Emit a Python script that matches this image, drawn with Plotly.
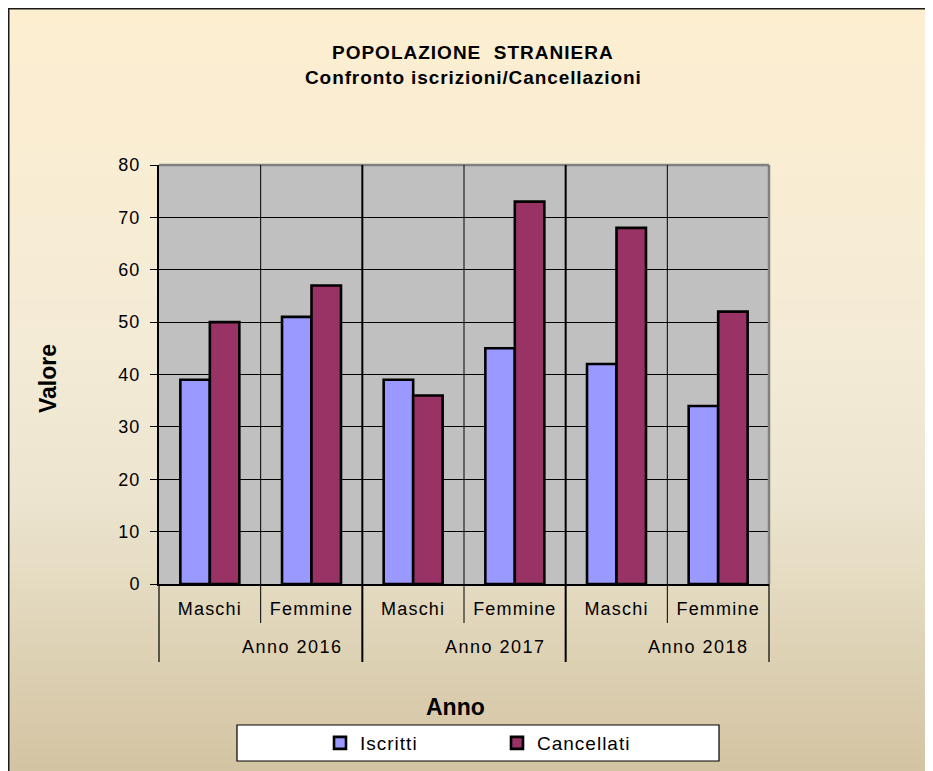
import plotly.graph_objects as go

# ---- data ----
years = ["Anno 2016", "Anno 2017", "Anno 2018"]
sexes = ["Maschi", "Femmine"]
iscritti = [39, 51, 39, 45, 42, 34]
cancellati = [50, 57, 36, 73, 68, 52]
y_ticks = [0, 10, 20, 30, 40, 50, 60, 70, 80]

title_text = "POPOLAZIONE\u00a0\u00a0STRANIERA"
subtitle_text = "Confronto iscrizioni/Cancellazioni"

# ---- figure geometry (page has an 8px body margin) ----
OFF = 8
W, H = 933, 771
ML, MT = 151, 157
PW, PH = 610, 419
MR = W - ML - PW
MB = H - MT - PH
FONT = "Liberation Sans, Arial, sans-serif"


def px_x(px):
    return (px - OFF - ML) / PW


def px_y(py):
    return (OFF + MT + PH - py) / PH


def spaced(t, ls):
    return f'<span style="letter-spacing:{ls}px">{t}</span>'


cats = [f"{y} {s}" for y in years for s in sexes]
ticktext = [spaced(s, 1.2) for y in years for s in sexes]

fig = go.Figure()
fig.add_trace(go.Bar(name=spaced("Iscritti", 1), x=cats, y=iscritti,
                     marker=dict(color="#9999FF", line=dict(color="#000000", width=2.6))))
fig.add_trace(go.Bar(name=spaced("Cancellati", 1), x=cats, y=cancellati,
                     marker=dict(color="#993366", line=dict(color="#000000", width=2.6))))

shapes = []
# background gradient over the whole paper
stops = [(0.0, (253, 238, 208)), (0.45, (244, 235, 214)), (0.65, (236, 228, 206)), (1.0, (211, 196, 162))]


def grad(t):
    for (t0, c0), (t1, c1) in zip(stops[:-1], stops[1:]):
        if t <= t1:
            f = (t - t0) / (t1 - t0)
            return tuple(round(a + (b - a) * f) for a, b in zip(c0, c1))
    return stops[-1][1]


n = 96
step = H / n
for i in range(n):
    ya = i * step
    yb = ya + step + 0.6
    c = grad(min(1.0, (i + 0.5) * step / (H - OFF)))
    shapes.append(dict(type="rect", xref="paper", yref="paper", layer="below",
                       x0=px_x(OFF - 2), x1=px_x(OFF + W + 2),
                       y0=px_y(OFF + yb), y1=px_y(OFF + ya),
                       fillcolor=f"rgb{c}", line=dict(width=0)))
# outer frame (top and left edges)
shapes.append(dict(type="line", xref="paper", yref="paper", layer="above",
                   x0=px_x(OFF), x1=px_x(OFF + W), y0=px_y(OFF + 0.75), y1=px_y(OFF + 0.75),
                   line=dict(color="#1a1a1a", width=1.5)))
shapes.append(dict(type="line", xref="paper", yref="paper", layer="above",
                   x0=px_x(OFF + 0.75), x1=px_x(OFF + 0.75), y0=px_y(OFF), y1=px_y(OFF + H),
                   line=dict(color="#1a1a1a", width=1.5)))
# plot area fill
shapes.append(dict(type="rect", xref="paper", yref="paper", layer="below",
                   x0=0, x1=1, y0=0, y1=1, fillcolor="#C0C0C0", line=dict(width=0)))
# grey border top & right
shapes.append(dict(type="line", xref="paper", yref="paper", layer="above",
                   x0=0, x1=1, y0=1, y1=1, line=dict(color="#808080", width=2.5)))
shapes.append(dict(type="line", xref="paper", yref="paper", layer="above",
                   x0=1, x1=1, y0=0, y1=1, line=dict(color="#808080", width=2.5)))
# legend box
shapes.append(dict(type="rect", xref="paper", yref="paper", layer="below",
                   x0=px_x(237), x1=px_x(719), y0=px_y(761), y1=px_y(725),
                   fillcolor="#FFFFFF", line=dict(color="#000000", width=1.2)))

short_end = px_y(623)
long_end = px_y(662)
ncat = len(cats)
nsub = len(sexes)
for b in range(1, ncat):
    pos = b - 0.5
    is_group = (b % nsub == 0)
    shapes.append(dict(type="line", xref="x", yref="paper", layer="above",
                       x0=pos, x1=pos, y0=1, y1=long_end if is_group else short_end,
                       line=dict(color="#000000", width=2 if is_group else 1)))
for xp in (0, 1):
    shapes.append(dict(type="line", xref="paper", yref="paper", layer="above",
                       x0=xp, x1=xp, y0=0, y1=long_end,
                       line=dict(color="#000000", width=1.2)))

annotations = []
for gi, yr in enumerate(years):
    center = gi * nsub + (nsub - 1) / 2
    annotations.append(dict(text=spaced(yr, 1.5), x=center + 0.31, xref="x", y=px_y(647), yref="paper",
                            showarrow=False, xanchor="center", yanchor="middle",
                            font=dict(size=18, color="#000000", family=FONT)))
annotations.append(dict(text=spaced(f"<b>{title_text}</b>", 1), x=px_x(473), y=px_y(52),
                        xref="paper", yref="paper", showarrow=False, xanchor="center", yanchor="middle",
                        font=dict(size=19, color="#000000", family=FONT)))
annotations.append(dict(text=spaced(f"<b>{subtitle_text}</b>", 0.9), x=px_x(473), y=px_y(77),
                        xref="paper", yref="paper", showarrow=False, xanchor="center", yanchor="middle",
                        font=dict(size=19, color="#000000", family=FONT)))
annotations.append(dict(text="<b>Anno</b>", x=px_x(455), y=px_y(707), xref="paper", yref="paper",
                        showarrow=False, xanchor="center", yanchor="middle",
                        font=dict(size=23, color="#000000", family=FONT)))
annotations.append(dict(text="<b>Valore</b>", x=px_x(48), y=px_y(378), xref="paper", yref="paper",
                        showarrow=False, xanchor="center", yanchor="middle", textangle=-90,
                        font=dict(size=23, color="#000000", family=FONT)))

fig.update_layout(
    template="none",
    width=W, height=H,
    margin=dict(l=ML, r=MR, t=MT, b=MB, pad=0),
    paper_bgcolor="#FFFFFF",
    plot_bgcolor="#C0C0C0",
    font=dict(family=FONT, size=19, color="#000000"),
    barmode="group",
    bargap=0.42,
    bargroupgap=0,
    showlegend=True,
    legend=dict(orientation="h", x=px_x(320), xanchor="left", y=px_y(743), yanchor="middle",
                bgcolor="rgba(0,0,0,0)", borderwidth=0, font=dict(size=19, color="#000000"),
                entrywidth=132, entrywidthmode="pixels", traceorder="normal"),
    xaxis=dict(type="category", categoryorder="array", categoryarray=cats,
               tickvals=cats, ticktext=ticktext, showgrid=False, zeroline=False,
               showline=True, linecolor="#000000", linewidth=2, ticks="",
               ticklabelstandoff=7, tickfont=dict(size=18, color="#000000"),
               range=[-0.5, ncat - 0.5]),
    yaxis=dict(range=[0, 80], tickvals=y_ticks, ticktext=[spaced(str(v), 1) for v in y_ticks],
               showgrid=True, gridcolor="#000000", gridwidth=1,
               zeroline=False, showline=True, linecolor="#000000", linewidth=2,
               ticks="outside", ticklen=7, tickwidth=1, tickcolor="#000000",
               ticklabelstandoff=6, tickfont=dict(size=18, color="#000000")),
    shapes=shapes,
    annotations=annotations,
)

fig.write_html("out.html")
